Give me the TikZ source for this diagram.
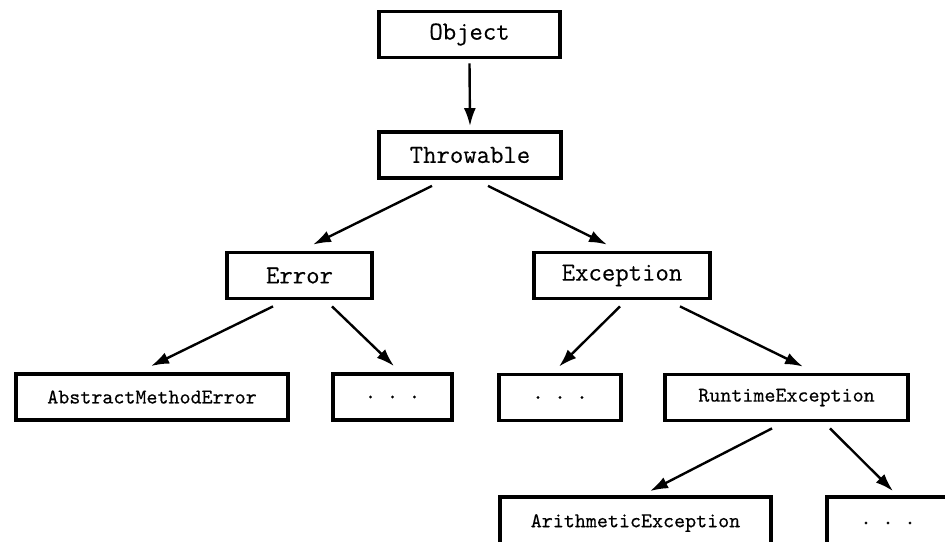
\documentclass[tikz,border=0pt]{standalone}
\usepackage{fontspec}
\setmonofont{Latin Modern Mono}[FakeBold=0.35]
\usetikzlibrary{arrows.meta}

\tikzset{
  cls/.style={draw, line width=1.9pt, inner sep=0pt, minimum height=23pt,
    font=\fontsize{13}{15}\selectfont\ttfamily},
  subcls/.style={cls, font=\fontsize{10.5}{12}\selectfont\ttfamily},
  inh/.style={-{Latex[length=9pt,width=6pt]}, line width=1.2pt}
}

\begin{document}
\begin{tikzpicture}[x=0.5pt,y=-0.5pt]
\useasboundingbox (0,0) rectangle (945,541);
\clip (0,0) rectangle (945,541);

% class boxes
\node[cls, minimum width=90.6pt] (obj) at (469.5,34.5) {Object};
\node[cls, minimum width=91.1pt] (thr) at (470,155) {Throwable};
\node[cls, minimum width=72.6pt] (err) at (299.5,275.5) {Error};
\node[cls, minimum width=88.1pt] (exc) at (622,275.5) {Exception};
\node[subcls, minimum width=136.1pt] (ame) at (152,397) {AbstractMethodError};
\node[subcls, minimum width=59.6pt] (errmore) at (392.5,397) {. . .};
\node[subcls, minimum width=61.1pt] (excmore) at (560,397.5) {. . .};
\node[subcls, minimum width=121.6pt] (rte) at (786.5,397.5) {RuntimeException};
\node[subcls, minimum width=135.6pt, minimum height=26pt] (ari) at (635.5,523) {ArithmeticException};
\node[subcls, minimum width=61.1pt, minimum height=26pt] (rtemore) at (888,523) {. . .};

% inheritance arrows
\draw[inh] ([yshift=-2pt]obj.south) -- ([yshift=2pt]thr.north);
\draw[inh] ([xshift=-19pt,yshift=-3pt]thr.south) -- ([xshift=6.75pt,yshift=3pt]err.north);
\draw[inh] ([xshift=9pt,yshift=-3pt]thr.south) -- ([xshift=-7.5pt,yshift=3pt]exc.north);
\draw[inh] ([xshift=-13.25pt,yshift=-3pt]err.south) -- ([xshift=-0.5pt,yshift=3pt]ame.north);
\draw[inh] ([xshift=16.25pt,yshift=-3pt]err.south) -- ([xshift=0.75pt,yshift=3pt]errmore.north);
\draw[inh] ([xshift=-1pt,yshift=-3pt]exc.south) -- ([xshift=-0.5pt,yshift=3pt]excmore.north);
\draw[inh] ([xshift=29pt,yshift=-3pt]exc.south) -- ([xshift=8.25pt,yshift=3pt]rte.north);
\draw[inh] ([xshift=-7.25pt,yshift=-3pt]rte.south) -- ([xshift=7.25pt,yshift=2pt]ari.north);
\draw[inh] ([xshift=21.75pt,yshift=-3pt]rte.south) -- ([xshift=2.5pt,yshift=2pt]rtemore.north);
\end{tikzpicture}
\end{document}
